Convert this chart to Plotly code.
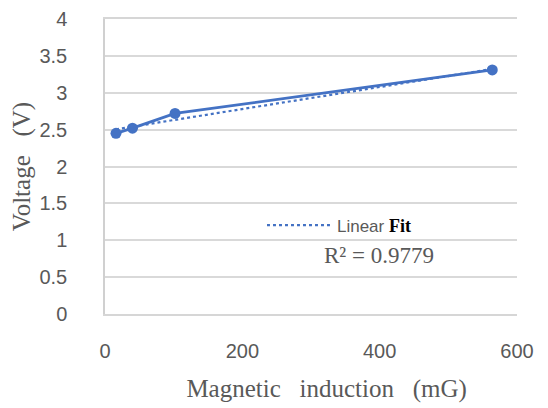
import numpy as np
import plotly.graph_objects as go

# magnetic induction (mG) vs voltage (V)
induction = [16, 40, 102, 564]
voltage = [2.45, 2.52, 2.72, 3.31]

x_ticks = [0, 200, 400, 600]
y_ticks = [0, 0.5, 1, 1.5, 2, 2.5, 3, 3.5, 4]

blue = "#4472C4"
grey = "#595959"

# linear trendline over the data range
slope, icpt = np.polyfit(induction, voltage, 1)
fit_x = [min(induction), max(induction)]
fit_y = [slope * v + icpt for v in fit_x]

fig = go.Figure()
fig.add_trace(go.Scatter(x=induction, y=voltage, mode="lines+markers",
                         line=dict(color=blue, width=2.8),
                         marker=dict(color=blue, size=11),
                         showlegend=False))
fig.add_trace(go.Scatter(x=fit_x, y=fit_y, mode="lines",
                         line=dict(color=blue, width=2.2, dash="dot"),
                         name='Linear <span style="font-family:Liberation Serif;color:black;font-size:18px"><b>Fit</b></span>'))

fig.add_annotation(text="R² = 0.9779", xref="paper", yref="paper",
                   x=0.665, y=0.15, showarrow=False,
                   font=dict(family="Liberation Serif", size=23, color=grey))

# page body has an 8px margin, so the figure is drawn 8px smaller
fig.update_layout(
    width=540, height=400,
    margin=dict(l=97, r=31, t=11, b=94),
    paper_bgcolor="white", plot_bgcolor="white",
    legend=dict(x=0.381, y=0.3, xanchor="left", yanchor="middle",
                bgcolor="rgba(0,0,0,0)", itemwidth=65,
                font=dict(family="Liberation Sans", size=17, color=grey)),
    xaxis=dict(range=[0, 600], tickvals=x_ticks, showgrid=False,
               showline=True, mirror=True, linecolor="#d6d6d6", linewidth=1.5,
               zeroline=False, automargin=False,
               ticks="outside", ticklen=18, tickcolor="rgba(0,0,0,0)",
               tickfont=dict(family="Liberation Sans", size=20, color=grey),
               title=dict(text="&nbsp;&nbsp;&nbsp;&nbsp;&nbsp;Magnetic&nbsp;&nbsp; induction&nbsp;&nbsp; (mG)",
                          standoff=19,
                          font=dict(family="Liberation Serif", size=25, color=grey))),
    yaxis=dict(range=[0, 4], tickvals=y_ticks, showgrid=True,
               gridcolor="#d9d9d9", gridwidth=1.5,
               showline=True, linecolor="#d0d0d0", linewidth=1.5,
               zeroline=False, automargin=False, ticklabeloverflow="allow",
               ticks="outside", ticklen=32, tickcolor="rgba(0,0,0,0)",
               tickfont=dict(family="Liberation Sans", size=20, color=grey),
               title=dict(text="Voltage&nbsp;&nbsp; (V)", standoff=8,
                          font=dict(family="Liberation Serif", size=25, color=grey))),
)

fig.write_html("out.html")
